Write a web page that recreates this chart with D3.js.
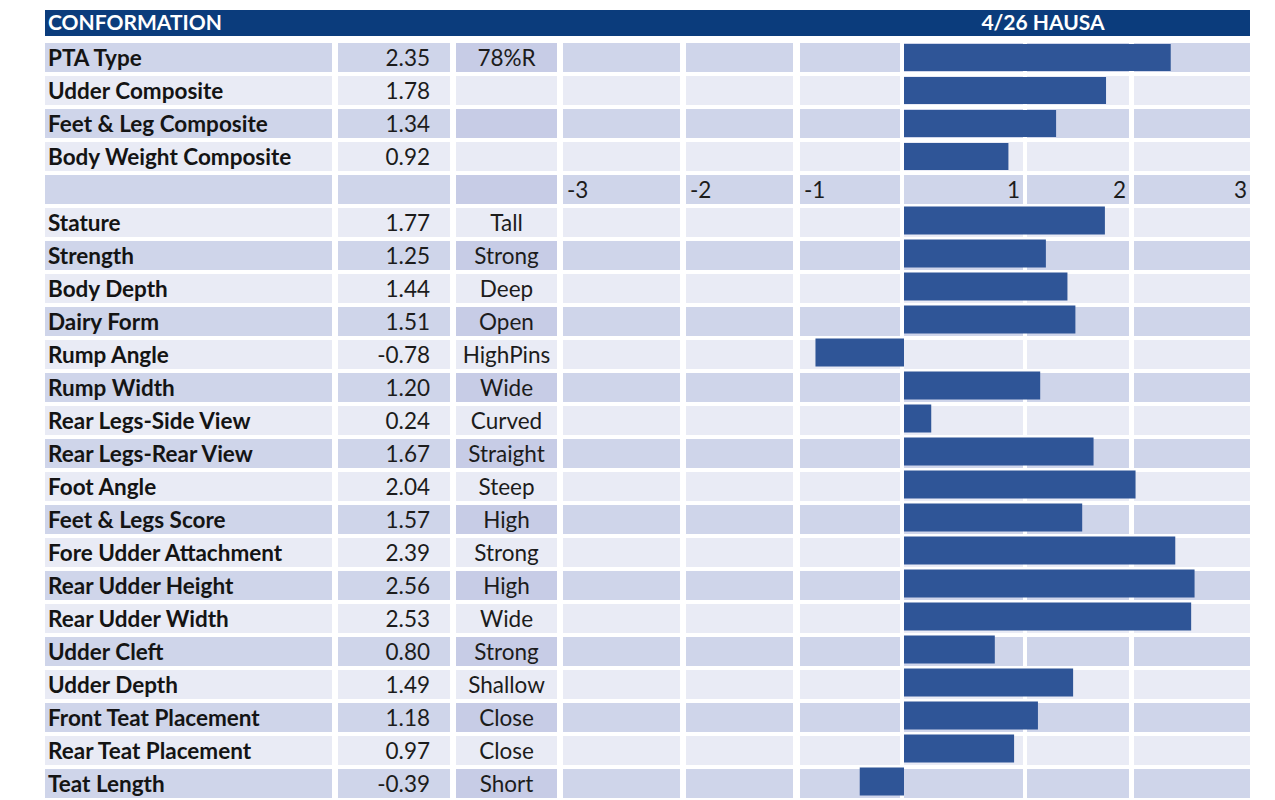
<!DOCTYPE html>
<html>
<head>
<meta charset="utf-8">
<script src="https://cdn.jsdelivr.net/npm/d3@7"></script>
<style>
	body { margin: 0; background: #fff; }
	svg { display: block; font-family: Lato, "Open Sans", sans-serif; }
	.lbl { font-weight: 700; fill: #141414; }
	.txt { fill: #1c1c1c; }
</style>
</head>
<body>
<main></main>
<script>
// composite rows (top block)
const compositeNames = ["PTA Type", "Udder Composite", "Feet & Leg Composite", "Body Weight Composite"];
const compositeValues = [2.35, 1.78, 1.34, 0.92];
const compositeNotes = ["78%R", "", "", ""];

// linear traits (bottom block)
const traitNames = ["Stature", "Strength", "Body Depth", "Dairy Form", "Rump Angle", "Rump Width",
	"Rear Legs-Side View", "Rear Legs-Rear View", "Foot Angle", "Feet & Legs Score",
	"Fore Udder Attachment", "Rear Udder Height", "Rear Udder Width", "Udder Cleft",
	"Udder Depth", "Front Teat Placement", "Rear Teat Placement", "Teat Length"];
const traitValues = [1.77, 1.25, 1.44, 1.51, -0.78, 1.20, 0.24, 1.67, 2.04, 1.57,
	2.39, 2.56, 2.53, 0.80, 1.49, 1.18, 0.97, -0.39];
const traitNotes = ["Tall", "Strong", "Deep", "Open", "HighPins", "Wide", "Curved", "Straight",
	"Steep", "High", "Strong", "High", "Wide", "Strong", "Shallow", "Close", "Close", "Short"];

const tickLabels = ["-3", "-2", "-1", "1", "2", "3"];
const title = "CONFORMATION";
const subtitle = "4/26 HAUSA";

const width = 1275;
const height = 800;

const rows = [];
compositeNames.forEach((n, i) => rows.push({ name: n, value: compositeValues[i], note: compositeNotes[i], top: true }));
rows.push({ axis: true });
traitNames.forEach((n, i) => rows.push({ name: n, value: traitValues[i], note: traitNotes[i], top: false }));
rows.forEach((r, i) => r.idx = i);

// table column layout (spreadsheet cells)
const textCols = [[45, 332], [338, 450], [456, 557]];
const chartCols = [[563, 680], [686, 793], [800, 900], [904, 1023], [1027, 1129], [1134, 1250]];

const svg = d3.select("main")
	.append("svg")
	.attr("width", width)
	.attr("height", height);

const y = d3.scaleBand()
	.domain(rows.map((r) => r.idx))
	.range([43, 43 + rows.length * 33 - 4])
	.paddingInner(4 / 33)
	.paddingOuter(0);

const x = d3.scaleLinear()
	.domain([-3, 3])
	.range([563.5, 1244.5]);

const dark = (r) => r.idx % 2 === 0;

// header band
svg.append('rect')
	.attr('x', 45).attr('y', 10)
	.attr('width', 1250 - 45).attr('height', 26)
	.attr('fill', '#0b3c7c');

svg.append('text')
	.attr('x', 48).attr('y', 30)
	.attr('fill', '#fff')
	.attr('font-weight', 700)
	.attr('font-size', 21)
	.text(title);

svg.append('text')
	.attr('x', 1043).attr('y', 30)
	.attr('fill', '#fff')
	.attr('font-weight', 700)
	.attr('font-size', 21)
	.attr('text-anchor', 'middle')
	.text(subtitle);

// cell backgrounds
const rowG = svg.selectAll('g.row')
	.data(rows)
	.enter()
	.append('g')
	.attr('class', 'row')
	.attr('transform', (r) => `translate(0, ${y(r.idx)})`);

const allCols = textCols.concat(chartCols);
rowG.selectAll('rect.cell')
	.data((r) => allCols.map((c, j) => ({ r: r, c: c, j: j })))
	.enter()
	.append('rect')
	.attr('class', 'cell')
	.attr('x', (d) => d.c[0])
	.attr('width', (d) => d.c[1] - d.c[0])
	.attr('height', y.bandwidth())
	.attr('fill', (d) => {
		if (!dark(d.r)) return '#e9ebf5';
		return d.j === 2 ? '#c7cce6' : '#cfd5ea';
	});

const fs = 22.5;
const base = 22.5;

// trait names
rowG.filter((r) => !r.axis)
	.append('text')
	.attr('class', 'lbl')
	.attr('x', 48)
	.attr('y', base)
	.attr('font-size', fs)
	.text((r) => r.name);

// values
rowG.filter((r) => !r.axis)
	.append('text')
	.attr('class', 'txt')
	.attr('x', 430)
	.attr('y', base)
	.attr('font-size', fs)
	.attr('text-anchor', 'end')
	.text((r) => r.value.toFixed(2));

// notes
rowG.filter((r) => !r.axis)
	.append('text')
	.attr('class', 'txt')
	.attr('x', (textCols[2][0] + textCols[2][1]) / 2)
	.attr('y', base)
	.attr('font-size', fs)
	.attr('text-anchor', 'middle')
	.text((r) => r.note);

// scale labels row
const axisRow = rowG.filter((r) => r.axis);
axisRow.selectAll('text.tick')
	.data(tickLabels)
	.enter()
	.append('text')
	.attr('class', 'txt tick')
	.attr('font-size', fs)
	.attr('y', base)
	.attr('x', (t, i) => i < 3 ? chartCols[i][0] + 4 : chartCols[i][1] - 3)
	.attr('text-anchor', (t, i) => i < 3 ? 'start' : 'end')
	.text((t) => t);

// bars
rowG.filter((r) => !r.axis)
	.append('rect')
	.attr('class', 'bar')
	.attr('x', (r) => x(Math.min(0, r.value)))
	.attr('y', (r) => r.top ? 1 : -1.5)
	.attr('width', (r) => Math.abs(x(r.value) - x(0)))
	.attr('height', (r) => r.top ? 27 : 28)
	.attr('fill', '#2f5597');
</script>
</body>
</html>
